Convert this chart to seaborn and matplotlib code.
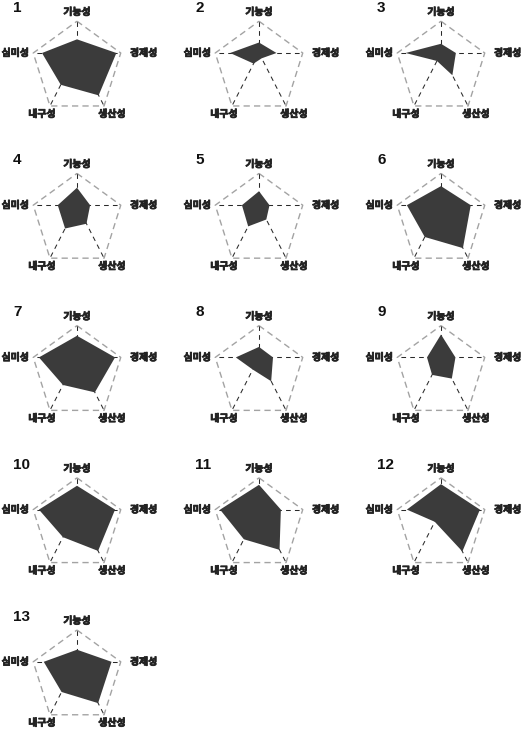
import numpy as np
import pandas as pd
import matplotlib
matplotlib.use("Agg")
import matplotlib.pyplot as plt
import matplotlib.patheffects as pe
import seaborn as sns

# ---- data (fraction of the full axis length) ----
chart_ids = [str(i) for i in range(1, 14)]
axis_labels = ["기능성", "경제성", "생산성", "내구성", "심미성"]
functionality = [0.43, 0.33, 0.29, 0.55, 0.44, 0.60, 0.68, 0.33, 0.72, 0.75, 0.78, 0.80, 0.38]
economy       = [0.90, 0.40, 0.34, 0.30, 0.24, 0.68, 0.87, 0.32, 0.33, 0.87, 0.50, 0.89, 0.79]
productivity  = [0.80, 0.10, 0.42, 0.35, 0.27, 0.81, 0.66, 0.45, 0.40, 0.78, 0.76, 0.79, 0.78]
durability    = [0.60, 0.20, 0.15, 0.44, 0.40, 0.60, 0.52, 0.23, 0.33, 0.52, 0.56, 0.23, 0.57]
aesthetics    = [0.80, 0.66, 0.81, 0.44, 0.39, 0.78, 0.87, 0.53, 0.32, 0.87, 0.89, 0.78, 0.76]

df = pd.DataFrame({"id": chart_ids, "기능성": functionality, "경제성": economy,
                   "생산성": productivity, "내구성": durability, "심미성": aesthetics})

# ---- style ----
sns.set_theme(style="white")
plt.rcParams["font.family"] = ["Noto Sans CJK KR", "DejaVu Sans"]

W, H = 523, 729
fig = plt.figure(figsize=(W / 100, H / 100), dpi=100)
fig.patch.set_facecolor("white")

# regular pentagon; spokes radiate from the level of the side vertices
R = 46.0
pent = np.array([
    [0.0, R * (1 - 0.309)],                       # top
    [R * 0.951, 0.0],                             # right
    [R * 0.588, -R * (0.309 + 0.809) * 1.03],     # bottom-right
    [-R * 0.588, -R * (0.309 + 0.809) * 1.03],    # bottom-left
    [-R * 0.951, 0.0],                            # left
])

fill_color = "#3b3b3b"
outline_color = "#a3a3a3"
spoke_color = "#2a2a2a"
text_color = "#222222"

label_pos = [(0, 41, "center", "center"),
             (53, 0, "left", "center"),
             (35, -61, "center", "center"),
             (-35, -61, "center", "center"),
             (-48, 0, "right", "center")]

bold_fx = [pe.withStroke(linewidth=0.6, foreground=text_color)]

for i, row in df.iterrows():
    r, c = divmod(i, 3)
    xc = 77 + 182 * c
    yc = 53 + 152.2 * r
    left_px, top_px = xc - 80, yc - 56
    wpx, hpx = 176, 152
    ax = fig.add_axes([left_px / W, 1 - (top_px + hpx) / H, wpx / W, hpx / H])
    ax.set_xlim(-80, 96)
    ax.set_ylim(-96, 56)
    ax.axis("off")

    # outer dashed pentagon
    closed = np.vstack([pent, pent[:1]])
    ax.plot(closed[:, 0], closed[:, 1], color=outline_color, lw=1.0,
            dashes=(4.5, 3), zorder=1, clip_on=False)
    # spokes
    for v in pent:
        ax.plot([0, v[0]], [0, v[1]], color=spoke_color, lw=0.75,
                dashes=(4.5, 4), zorder=2, clip_on=False)
    # data polygon
    vals = np.array([row[a] for a in axis_labels])
    pts = pent * vals[:, None]
    ax.fill(pts[:, 0], pts[:, 1], color=fill_color, lw=0, zorder=3)

    # axis labels
    for lab, (lx, ly, ha, va) in zip(axis_labels, label_pos):
        ax.text(lx, ly, lab, ha=ha, va=va, fontsize=7.1, fontweight="bold",
                color=text_color, clip_on=False, path_effects=bold_fx)
    # chart number
    ax.text(-64, 45, row["id"], ha="left", va="center", fontsize=11,
            fontweight="bold", family=["Liberation Sans", "DejaVu Sans"],
            color="#111111", clip_on=False)

fig.savefig("out.png", dpi=100, facecolor="white")
